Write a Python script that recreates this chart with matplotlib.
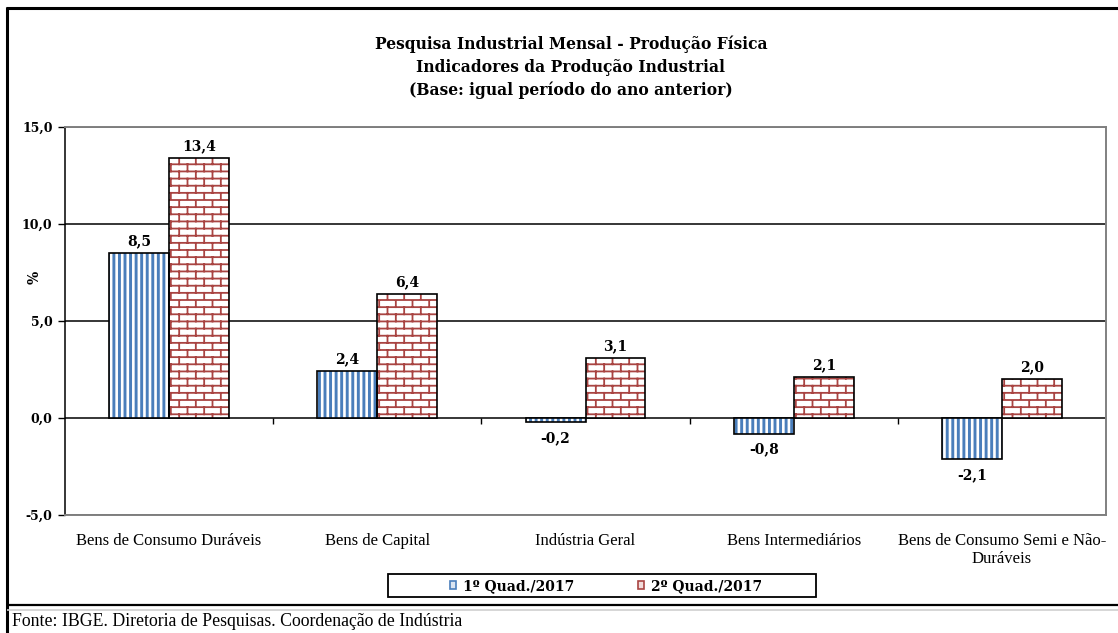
import warnings
import numpy as np
import matplotlib
matplotlib.use("Agg")
import matplotlib.pyplot as plt
import matplotlib.hatch as mhatch
from matplotlib.path import Path
from matplotlib.patches import Patch, Rectangle
from matplotlib.lines import Line2D
from matplotlib.ticker import FuncFormatter

warnings.filterwarnings("ignore")

# ---------------- data ----------------
categories = ["Bens de Consumo Duráveis", "Bens de Capital", "Indústria Geral",
              "Bens Intermediários", "Bens de Consumo Semi e Não-\nDuráveis"]
series_names = ["1º Quad./2017", "2º Quad./2017"]
q1_values = [8.5, 2.4, -0.2, -0.8, -2.1]
q2_values = [13.4, 6.4, 3.1, 2.1, 2.0]
y_ticks = [-5.0, 0.0, 5.0, 10.0, 15.0]
title_lines = ["Pesquisa Industrial Mensal - Produção Física",
               "Indicadores da Produção Industrial",
               "(Base: igual período do ano anterior)"]
source_text = "Fonte: IBGE. Diretoria de Pesquisas. Coordenação de Indústria"

# ---------------- custom brick hatch ----------------
class BrickHatch(mhatch.HatchPatternBase):
    def __init__(self, hatch, density):
        self.on = 'b' in hatch
        self.rows = 14
        self.cols = 6
        if self.on:
            self.num_vertices = ((self.rows + 1) + self.rows * self.cols) * 2
        else:
            self.num_vertices = 0

    def set_vertices_and_codes(self, vertices, codes):
        segs = []
        for i in range(self.rows + 1):
            y = i / self.rows
            segs.append(((0.0, y), (1.0, y)))
        for i in range(self.rows):
            y1 = i / self.rows
            y2 = (i + 1) / self.rows
            off = 0.25 if i % 2 == 0 else 0.75
            for j in range(self.cols):
                xv = (j + off) / self.cols
                segs.append(((xv, y1), (xv, y2)))
        arr = np.array(segs, dtype=float).reshape(-1, 2)
        vertices[:] = arr
        codes[0::2] = Path.MOVETO
        codes[1::2] = Path.LINETO

mhatch._hatch_types.append(BrickHatch)

# ---------------- style ----------------
SERIF = ["Liberation Serif", "DejaVu Serif"]
BOLDSERIF = ["DejaVu Serif"]
plt.rcParams['font.family'] = SERIF
BLUE = "#4a7ebb"
RED = "#a94442"

W, H = 1118, 633
fig = plt.figure(figsize=(W / 100, H / 100), dpi=100)

def fx(px):
    return px / W

def fy(py):
    return 1 - py / H

ax_left, ax_right, ax_top, ax_bot = 65, 1106, 127, 515
ax = fig.add_axes([fx(ax_left), fy(ax_bot), fx(ax_right - ax_left), (ax_bot - ax_top) / H])

x = np.arange(len(categories))
bw = 0.288

def hatched_bars(xpos, vals, hatch, color, hlw):
    with plt.rc_context({'hatch.linewidth': hlw}):
        bars = ax.bar(xpos, vals, bw, facecolor='white', edgecolor=color,
                      linewidth=0, hatch=hatch, zorder=3)
        for b in bars:
            if hasattr(b, 'set_hatch_linewidth'):
                b.set_hatch_linewidth(hlw)
    ax.bar(xpos, vals, bw, fill=False, edgecolor='black', linewidth=1.2, zorder=4)
    return bars

hatched_bars(x - bw / 2, q1_values, '|||', BLUE, 2.1)
hatched_bars(x + bw / 2, q2_values, 'b', RED, 1.3)

def fmt(v):
    return f"{v:.1f}".replace('.', ',')

for xs, vals in ((x - bw / 2, q1_values), (x + bw / 2, q2_values)):
    for xi, v in zip(xs, vals):
        if v >= 0:
            ax.annotate(fmt(v), (xi, v), xytext=(0, 3.5), textcoords='offset points',
                        ha='center', va='bottom', fontsize=10, fontweight='bold',
                        family=BOLDSERIF, zorder=6)
        else:
            ax.annotate(fmt(v), (xi, v), xytext=(0, -6.5), textcoords='offset points',
                        ha='center', va='top', fontsize=10, fontweight='bold',
                        family=BOLDSERIF, zorder=6)

ymin, ymax = y_ticks[0], y_ticks[-1]
ax.set_ylim(ymin, ymax)
ax.set_xlim(-0.5, len(categories) - 0.5)
ax.set_yticks(y_ticks)
ax.yaxis.set_major_formatter(FuncFormatter(lambda v, p: fmt(v)))
ax.tick_params(axis='y', direction='out', length=5, width=1, color='black',
               labelsize=9, pad=4)
for lab in ax.get_yticklabels():
    lab.set_fontweight('bold')
    lab.set_family(BOLDSERIF)
yt = ax.yaxis.get_major_ticks()
yt[0].tick1line.set_color('#808080')
yt[-1].tick1line.set_color('#808080')
ax.set_xticks(x)
ax.set_xticklabels(categories, fontsize=12, linespacing=1.15)
ax.tick_params(axis='x', length=0, pad=13)

ax.yaxis.grid(True, color='black', linewidth=1.1, zorder=1)
ax.set_axisbelow(True)
for s in ('top', 'bottom', 'right'):
    ax.spines[s].set_color('#808080')
    ax.spines[s].set_linewidth(1.4)
ax.spines['left'].set_color('black')
ax.spines['left'].set_linewidth(1.1)

ax.set_ylabel('%', fontsize=10, fontweight='bold', family=BOLDSERIF)
ax.yaxis.set_label_coords((35 - ax_left) / (ax_right - ax_left), 0.5 + (321 - 277) / (ax_bot - ax_top))
ax.yaxis.label.set_va('center')

# category boundary ticks at the zero line
sec = ax.secondary_xaxis((0 - ymin) / (ymax - ymin))
sec.set_xticks(x[:-1] + 0.5)
sec.tick_params(axis='x', direction='out', length=4, width=1, color='black',
                labelbottom=False, labeltop=False)
for s in sec.spines.values():
    s.set_visible(False)

# title
for i, line in enumerate(title_lines):
    fig.text(fx(571), fy(44 + 23 * i), line, ha='center', va='center',
             fontsize=11.2, fontweight='bold', family=BOLDSERIF)

# legend
handles = [Patch(facecolor='#dbe5f1', edgecolor=BLUE, linewidth=1.2),
           Patch(facecolor='#f2dcdb', edgecolor=RED, linewidth=1.2)]
leg = fig.legend(handles, series_names, loc='center', ncol=2,
                 bbox_to_anchor=(fx(606), fy(586)), frameon=False,
                 handlelength=0.45, handleheight=0.45, handletextpad=0.5,
                 columnspacing=4.6,
                 prop={'family': BOLDSERIF, 'weight': 'bold', 'size': 10})
fig.add_artist(Rectangle((fx(388), fy(597)), fx(816 - 388), (597 - 574) / H,
                         transform=fig.transFigure, fill=False, edgecolor='black',
                         linewidth=1.3))

# outer chart frame and sheet lines
def fig_line(x0, y0, x1, y1, color='black', lw=2.0):
    fig.add_artist(Line2D([fx(x0), fx(x1)], [fy(y0), fy(y1)], transform=fig.transFigure,
                          color=color, linewidth=lw, solid_capstyle='butt'))

fig_line(6, 8, W, 8, lw=2.2)
fig_line(7, 7, 7, H, lw=2.2)
fig_line(6, 605, W, 605, lw=1.6)
fig_line(7, 610, W, 610, color='#d0d0d0', lw=1.2)

fig.text(fx(12), fy(622), source_text, ha='left', va='center', fontsize=12.8)

fig.savefig("out.png", dpi=100)
